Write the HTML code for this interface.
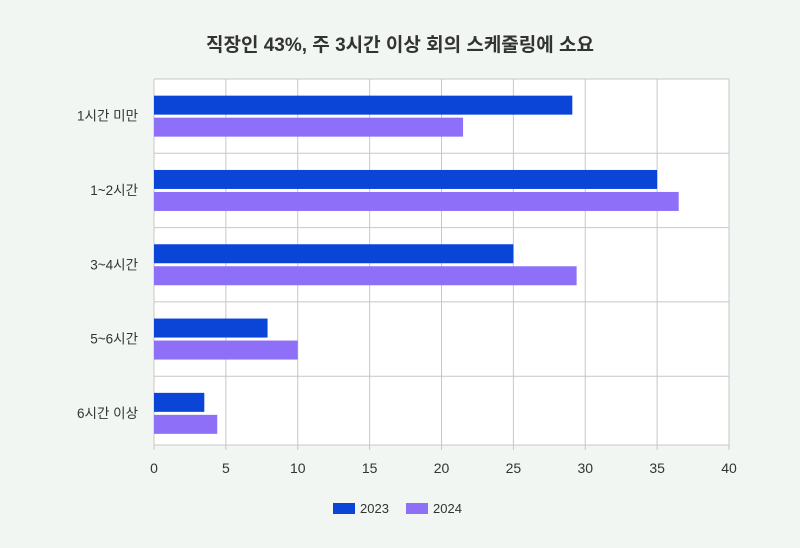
<!DOCTYPE html>
<html><head><meta charset="utf-8"><style>
body{margin:0;background:#f1f6f2;}
svg{display:block;font-family:"Liberation Sans","Noto Sans CJK KR",sans-serif;}
</style></head><body>
<svg id="c" width="800" height="548">
<rect width="800" height="548" fill="#f1f6f2"/>
<text x="400" y="51" text-anchor="middle" font-size="19" font-weight="bold" fill="#333">직장인 43%, 주 3시간 이상 회의 스케줄링에 소요</text>
<rect x="154" y="79" width="575" height="366" fill="#fff"/>
<g id="grid"></g><g id="bars"></g><g id="axes"></g>
<g>
<rect x="333" y="503" width="22" height="11" fill="#0b45d8"/>
<text x="360" y="513" font-size="13" fill="#333">2023</text>
<rect x="406" y="503" width="22" height="11" fill="#8e70f8"/>
<text x="433" y="513" font-size="13" fill="#333">2024</text>
</g>
</svg>
<script>
const categories=["1시간 미만","1~2시간","3~4시간","5~6시간","6시간 이상"];
const values2023=[29.1,35.0,25.0,7.9,3.5];
const values2024=[21.5,36.5,29.4,10.0,4.4];
const xTicks=[0,5,10,15,20,25,30,35,40];
const NS="http://www.w3.org/2000/svg";
const L=154,R=729,T=79,B=445,maxV=40;
const x=v=>L+v/maxV*(R-L);
const band=74.3;
function mk(p,tag,a,txt){const e=document.createElementNS(NS,tag);for(const k in a)e.setAttribute(k,a[k]);if(txt!==undefined)e.textContent=txt;document.getElementById(p).appendChild(e);return e;}
xTicks.forEach(t=>{
 const g=mk('grid','line',{x1:x(t),x2:x(t),y1:T,y2:B+5,stroke:'#c4c8c6','stroke-width':1});
 
 
 const l=mk('axes','text',{x:x(t),y:B+28,'text-anchor':'middle','font-size':14,fill:'#333'},t);
 
 
});
for(let i=0;i<categories.length;i++){
 const yy=T+i*band;
 const g=mk('grid','line',{x1:L,x2:R,y1:yy,y2:yy,stroke:'#c4c8c6','stroke-width':1});
 
 
}
const bl=mk('grid','line',{x1:L,x2:R,y1:B,y2:B,stroke:'#c4c8c6','stroke-width':1});


categories.forEach((c,i)=>{
 const cy=T+i*band+band/2-0.5;
 const l=mk('axes','text',{x:L-16,y:cy+5,'text-anchor':'end','font-size':13.5,fill:'#333'},c);
 
 
 const b1=mk('bars','rect',{x:L,y:cy-20,width:x(values2023[i])-L,height:19,fill:'#0b45d8'});
 
 
 const b2=mk('bars','rect',{x:L,y:cy+2,width:x(values2024[i])-L,height:19,fill:'#8e70f8'});
 
 
});
</script>
</body></html>
